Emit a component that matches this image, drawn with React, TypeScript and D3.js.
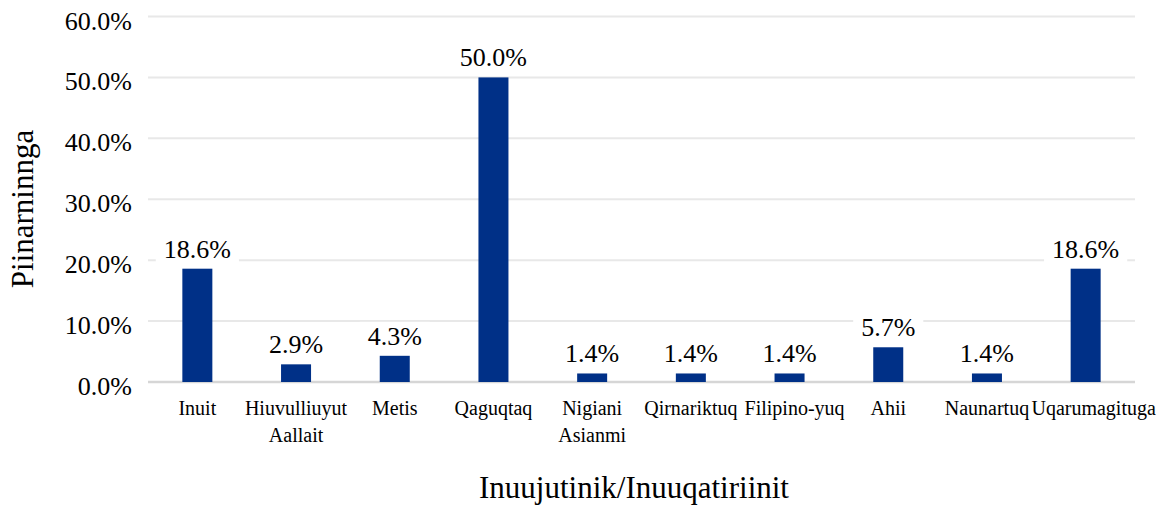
import React from "react";
import * as d3 from "d3";

const categories = [
  "Inuit",
  "Hiuvulliuyut Aallait",
  "Metis",
  "Qaguqtaq",
  "Nigiani Asianmi",
  "Qirnariktuq",
  "Filipino-yuq",
  "Ahii",
  "Naunartuq",
  "Uqarumagituga",
];
const values = [18.6, 2.9, 4.3, 50.0, 1.4, 1.4, 1.4, 5.7, 1.4, 18.6];
const yTicks = [0, 10, 20, 30, 40, 50, 60];
const xTitle = "Inuujutinik/Inuuqatiriinit";
const yTitle = "Piinarninnga";

const W = 1157;
const H = 508;
const FONT = "Liberation Serif";
const BAR = "#003087";

export default function App() {
  const x = d3
    .scaleBand<string>()
    .domain(categories)
    .range([148, 1135])
    .paddingInner(0.696)
    .paddingOuter(0.348);
  const y = d3.scaleLinear().domain([0, 60]).range([382, 16.5]);
  const fmt = (v: number) => d3.format(".1f")(v) + "%";

  const labelFont = 26;
  const charW = (s: string) => {
    let w = 0;
    for (const c of s) w += c === "." ? 0.25 : c === "%" ? 0.833 : 0.5;
    return w * labelFont;
  };
  const ts = { fontFamily: FONT };
  // horizontal nudges that keep neighbouring category labels apart
  const labelNudge: Record<number, number> = { 6: 5, 9: 8 };

  return (
    <svg
      width={W}
      height={H}
      style={{ position: "absolute", left: 0, top: 0, background: "#fff", fontFamily: FONT }}
    >
      <rect x={0} y={0} width={W} height={H} fill="#fff" />
      {yTicks.map((t) => (
        <g key={t}>
          <line
            x1={148}
            x2={1135}
            y1={y(t)}
            y2={y(t)}
            stroke={t === 0 ? "#d6d6d6" : "#e8e8e8"}
            strokeWidth={t === 0 ? 2.5 : 2}
          />
          <text
            x={132}
            y={y(t) + 13}
            textAnchor="end"
            fontSize={26}
            fill="#000"
            style={ts}
          >
            {fmt(t)}
          </text>
        </g>
      ))}
      {categories.map((c, i) => {
        const bx = x(c)!;
        const bw = x.bandwidth();
        const cx = bx + bw / 2;
        const lx = cx + (labelNudge[i] || 0);
        const top = y(values[i]);
        const label = fmt(values[i]);
        const tw = charW(label);
        const base = top - 11;
        return (
          <g key={c}>
            <rect x={bx} y={top} width={bw} height={y(0) - top} fill={BAR} />
            <rect
              x={cx - tw / 2 - 8}
              y={base - 23}
              width={tw + 16}
              height={29}
              fill="#fff"
            />
            <text x={cx} y={base} textAnchor="middle" fontSize={labelFont} fill="#000" style={ts}>
              {label}
            </text>
            <text x={lx} y={415} textAnchor="middle" fontSize={20} fill="#000" style={ts}>
              {c.split(" ").map((part, j) => (
                <tspan key={j} x={lx} dy={j === 0 ? 0 : 27}>
                  {part}
                </tspan>
              ))}
            </text>
          </g>
        );
      })}
      <text x={634} y={498} textAnchor="middle" fontSize={31} fill="#000" style={ts}>
        {xTitle}
      </text>
      <text
        transform="translate(33,209) rotate(-90)"
        textAnchor="middle"
        fontSize={31}
        fill="#000"
        style={ts}
      >
        {yTitle}
      </text>
    </svg>
  );
}
